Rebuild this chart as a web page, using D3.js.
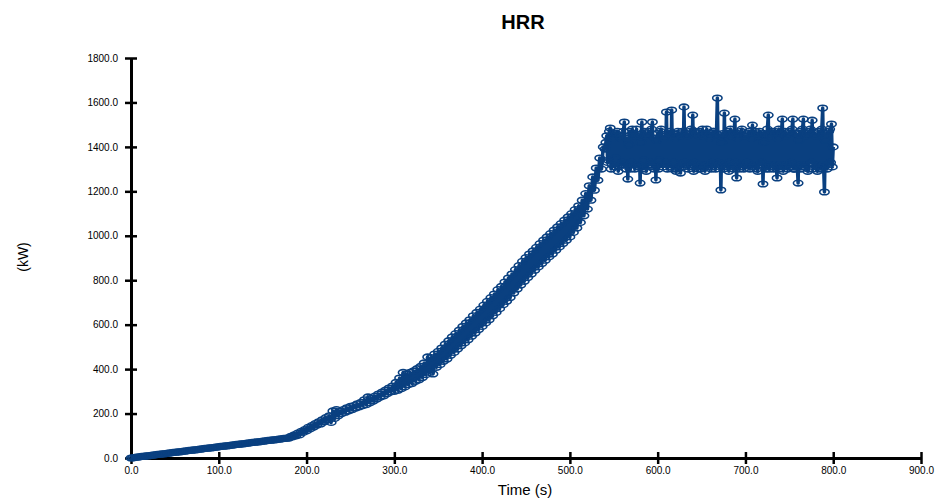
<!DOCTYPE html>
<html>
<head>
<meta charset="utf-8">
<script src="https://cdn.jsdelivr.net/npm/d3@7"></script>
<style>
  body { margin: 0; background: #fff; }
  svg { display: block; font-family: 'Liberation Sans', Arial, sans-serif; }
</style>
</head>
<body>
<svg id="chart" width="943" height="500"></svg>
<script>
// Data
// each segment: regular sampling start + step (s), and HRR values (kW)
const growthStart = 0, growthStep = 2
const growthHrr = [
  0, 1, 2, 4, 4, 5, 7, 7, 8, 10, 10, 11, 13, 13, 14, 16, 16, 17, 19, 19,
  20, 22, 22, 23, 25, 25, 26, 28, 28, 29, 31, 31, 32, 34, 34, 35, 37, 37, 38, 40,
  40, 41, 43, 43, 44, 46, 46, 47, 49, 49, 50, 52, 52, 53, 55, 55, 56, 58, 58, 59,
  61, 61, 62, 64, 64, 65, 67, 67, 68, 70, 70, 71, 73, 73, 74, 76, 76, 77, 79, 79,
  80, 82, 82, 83, 85, 85, 86, 88, 88, 89
]

const rampStart = 180, rampStep = 2
const rampHrr = [
  90, 97, 95, 104, 100, 112, 104, 120, 115, 128, 122, 138, 131, 146, 139, 155, 148, 163, 153, 172,
  163, 182, 172, 190, 160, 212, 178, 218, 190, 210, 200, 218, 206, 226, 212, 232, 218, 236, 225, 244,
  230, 250, 236, 262, 240, 275, 248, 268, 256, 278, 265, 288, 274, 296, 280, 305, 290, 315, 298, 324,
  300, 340, 305, 360, 312, 385, 320, 378, 330, 385, 335, 392, 345, 402, 352, 412, 362, 428, 375, 455,
  385, 452, 378, 468, 408, 480, 420, 495, 435, 512, 445, 528, 462, 545, 475, 560, 490, 575, 505, 592,
  518, 608, 532, 622, 548, 640, 562, 655, 578, 670, 592, 688, 608, 705, 622, 722, 640, 738, 655, 758,
  672, 772, 690, 792, 705, 810, 722, 828, 742, 848, 760, 866, 778, 885, 795, 902, 812, 918, 828, 932,
  845, 948, 860, 965, 875, 980, 890, 995, 905, 1010, 918, 1025, 935, 1040, 950, 1055, 965, 1070, 980, 1085,
  995, 1100, 1015, 1118, 1035, 1135, 1060, 1160, 1090, 1190, 1120, 1225, 1160, 1265, 1205, 1305, 1250, 1350, 1300, 1400
]

const plateauStart = 540, plateauStep = 1
const plateauHrr = [
  1390, 1420, 1450, 1330, 1340, 1470, 1485, 1300, 1320, 1440, 1460, 1310, 1350, 1460, 1470, 1290, 1310, 1450, 1440, 1320,
  1330, 1470, 1512, 1320, 1300, 1440, 1255, 1410, 1470, 1300, 1330, 1480, 1460, 1320, 1300, 1450, 1480, 1310, 1320, 1450,
  1237, 1420, 1512, 1300, 1340, 1470, 1450, 1290, 1310, 1460, 1470, 1320, 1330, 1480, 1512, 1310, 1300, 1440, 1251, 1430,
  1460, 1300, 1340, 1470, 1480, 1320, 1310, 1440, 1450, 1330, 1557, 1300, 1320, 1460, 1470, 1310, 1566, 1300, 1330, 1460,
  1440, 1290, 1300, 1470, 1460, 1320, 1282, 1450, 1470, 1310, 1580, 1330, 1320, 1460, 1450, 1300, 1310, 1470, 1480, 1320,
  1543, 1290, 1330, 1470, 1460, 1310, 1300, 1450, 1470, 1300, 1320, 1480, 1450, 1310, 1290, 1460, 1480, 1320, 1310, 1440,
  1460, 1300, 1330, 1470, 1470, 1310, 1300, 1460, 1620, 1330, 1320, 1450, 1206, 1420, 1460, 1300, 1552, 1320, 1310, 1460,
  1470, 1290, 1330, 1480, 1450, 1310, 1300, 1460, 1525, 1330, 1260, 1440, 1460, 1300, 1320, 1470, 1480, 1310, 1300, 1450,
  1450, 1320, 1330, 1460, 1470, 1300, 1310, 1440, 1498, 1310, 1320, 1470, 1460, 1300, 1290, 1450, 1470, 1320, 1330, 1460,
  1233, 1420, 1460, 1300, 1310, 1480, 1543, 1300, 1320, 1450, 1470, 1310, 1300, 1470, 1460, 1320, 1260, 1440, 1480, 1300,
  1320, 1460, 1525, 1290, 1310, 1470, 1450, 1320, 1300, 1460, 1470, 1310, 1330, 1480, 1525, 1300, 1300, 1460, 1460, 1320,
  1237, 1430, 1470, 1300, 1320, 1480, 1525, 1310, 1310, 1450, 1460, 1290, 1300, 1470, 1480, 1330, 1520, 1300, 1320, 1460,
  1450, 1310, 1290, 1470, 1470, 1300, 1310, 1480, 1575, 1320, 1197, 1430, 1460, 1300, 1320, 1470, 1480, 1330, 1503, 1310,
  1400
]

const xTicks = [0, 100, 200, 300, 400, 500, 600, 700, 800, 900]
const yTicks = [0, 200, 400, 600, 800, 1000, 1200, 1400, 1600, 1800]

const toPoints = (start, step, values) => values.map((v, i) => ({ t: start + i * step, hrr: v }))
const points = [
  ...toPoints(growthStart, growthStep, growthHrr),
  ...toPoints(rampStart, rampStep, rampHrr),
  ...toPoints(plateauStart, plateauStep, plateauHrr)
]

// Presentation
const blue = '#0a4080'
const margin = { top: 58, right: 22, bottom: 42, left: 131 }
const svg = d3.select('#chart')
const width = +svg.attr('width') - margin.left - margin.right
const height = +svg.attr('height') - margin.top - margin.bottom
const fmt = d3.format('.1f')

// Scales
const x = d3.scaleLinear().domain([0, 900]).range([0, width])
const y = d3.scaleLinear().domain([0, 1800]).range([height, 0])

const g = svg.append('g').attr('transform', `translate(${margin.left},${margin.top})`)

// Axes
const xAxis = g.append('g')
  .attr('transform', `translate(0,${height})`)
  .call(d3.axisBottom(x).tickValues(xTicks).tickFormat(fmt).tickSize(6).tickSizeOuter(0))
xAxis.selectAll('.tick line').attr('y1', -6).attr('y2', 6).attr('stroke-width', 2.5)
xAxis.selectAll('.tick text').attr('y', 9).style('font-size', '10px').attr('fill', '#000')

const yAxis = g.append('g')
  .call(d3.axisLeft(y).tickValues(yTicks).tickFormat(fmt).tickSize(6).tickSizeOuter(0))
yAxis.selectAll('.tick line').attr('x1', -6).attr('x2', 6).attr('stroke-width', 2.5)
yAxis.selectAll('.tick text').attr('x', -13).style('font-size', '10px').attr('fill', '#000')

g.selectAll('.domain').attr('stroke', '#000').attr('stroke-width', 3)

// Series
const line = d3.line().x(d => x(d.t)).y(d => y(d.hrr))
g.append('path')
  .datum(points)
  .attr('fill', 'none')
  .attr('stroke', blue)
  .attr('stroke-width', 3.5)
  .attr('stroke-linejoin', 'round')
  .attr('d', line)

// hollow markers on every sample
g.append('g')
  .selectAll('ellipse')
  .data(points)
  .join('ellipse')
  .attr('cx', d => x(d.t))
  .attr('cy', d => y(d.hrr))
  .attr('rx', 4.7)
  .attr('ry', 2.8)
  .attr('fill', 'none')
  .attr('stroke', blue)
  .attr('stroke-width', 1.6)

// Titles
svg.append('text')
  .attr('x', 523).attr('y', 29)
  .attr('text-anchor', 'middle')
  .style('font-size', '20px').style('font-weight', 'bold')
  .text('HRR')

svg.append('text')
  .attr('x', 525).attr('y', 495)
  .attr('text-anchor', 'middle')
  .style('font-size', '15px')
  .text('Time (s)')

svg.append('text')
  .attr('transform', 'translate(28,257) rotate(-90)')
  .attr('text-anchor', 'middle')
  .style('font-size', '14px')
  .text('(kW)')
</script>
</body>
</html>
